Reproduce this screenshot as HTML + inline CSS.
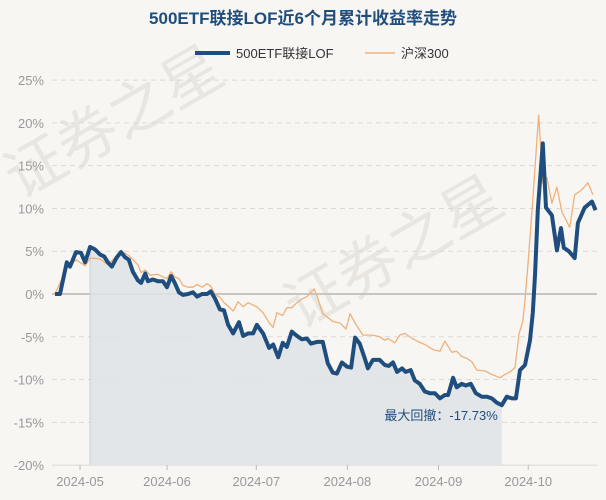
<!DOCTYPE html>
<html><head><meta charset="utf-8"><style>
body{margin:0;background:#f8f6f2;}
svg{display:block;font-family:"Liberation Sans","Noto Sans CJK SC",sans-serif;}
</style></head><body>
<svg id="chart" width="606" height="500">
<rect width="606" height="500" fill="#f8f6f2"/>
<g fill="#e9e6e1" font-size="60">
<text x="20" y="200" transform="rotate(-30 20 200)">证券之星</text>
<text x="300" y="330" transform="rotate(-30 300 330)">证券之星</text>
</g>
<text x="303" y="24" text-anchor="middle" font-size="17" font-weight="bold" fill="#1f4e7e">500ETF联接LOF近6个月累计收益率走势</text>
<g>
<line x1="195" y1="53" x2="230" y2="53" stroke="#1f4e7e" stroke-width="4"/>
<text x="236" y="58" font-size="13" fill="#333">500ETF联接LOF</text>
<line x1="365" y1="53" x2="395" y2="53" stroke="#f0b07a" stroke-width="1.5"/>
<text x="401" y="58" font-size="13" fill="#333">沪深300</text>
</g>
<g id="grid"></g><g id="area"></g><g id="lines"></g><g id="axes"></g>
</svg>
<script>
const yTicks=[25,20,15,10,5,0,-5,-10,-15,-20];
const xTickLabels=["2024-05","2024-06","2024-07","2024-08","2024-09","2024-10"];
const xTickDays=[5.5,24.6,44.2,64.2,84.2,103.9];
const fundDays=[0,1.1,2.6,3.3,4.6,5.7,6.6,7.7,8.8,9.9,10.8,11.6,12.5,13.6,14.5,15.4,16.2,17.1,18.2,18.9,19.8,20.4,21.5,22.6,23.7,24.6,25.5,26.3,27.2,28.1,29.2,30.3,31.2,32.3,33.4,34.2,35.1,36.2,37.1,38,39.1,40.4,41.3,42.4,43.5,44.3,45.7,47,47.9,49,50,50.9,52,53.1,54.2,55.3,56.2,57.5,58.8,59.9,61,61.9,63,64.1,65,65.9,66.9,68,68.7,69.8,71.3,72.4,73.3,74.2,75.1,76.2,77,78.1,79,80.1,81.2,82.3,83.4,84.5,85.6,86.3,87.4,88.2,89.3,90.2,91.3,92.4,93.7,94.8,95.9,97,98.1,99.2,100.3,101.2,102.1,103.2,104.3,104.9,105.4,106,107.1,107.8,109.1,110.2,111.1,111.7,112.8,114.1,114.8,116.3,117.9,118.7];
const fundValues=[0,0,3.7,3.2,4.9,4.8,3.7,5.5,5.2,4.6,4.4,3.7,3.2,4.3,4.9,4.3,4.0,2.6,1.6,1.3,2.4,1.5,1.7,1.5,1.5,0.8,2.1,1.3,0.2,-0.1,0,0.2,-0.3,0,0,0.3,-0.5,-1.8,-1.9,-3.6,-4.6,-3.3,-4.9,-4.6,-4.6,-3.6,-4.6,-6.3,-5.9,-7.4,-5.7,-6.2,-4.4,-4.9,-5.3,-5.2,-5.8,-5.6,-5.6,-8.1,-9.2,-9.3,-8.0,-8.5,-8.6,-5.1,-5.8,-7.5,-8.7,-7.7,-7.7,-8.3,-8.4,-8.0,-9.1,-8.7,-9.1,-8.9,-10.1,-10.5,-11.4,-11.6,-11.6,-12.2,-11.8,-11.8,-9.8,-10.9,-10.5,-10.7,-10.5,-11.6,-12.0,-12.0,-12.2,-12.7,-13.0,-12.0,-12.2,-12.2,-8.9,-8.3,-5.4,-2.2,2.4,9.8,17.6,10.1,9.2,5.1,7.7,5.4,5.0,4.2,8.3,10.1,10.8,9.8];
const indexDays=[0,2.6,4.6,6.6,7.7,9.9,11.6,13.6,14.5,16.2,18.2,18.9,19.8,20.9,22.6,23.7,24.6,25.5,26.3,27.2,28.1,29.2,30.3,31.2,32.3,33.4,34.2,35.1,36.2,37.1,38,39.1,40.2,41.3,42.4,43.5,44.3,45.7,47.2,47.9,48.7,50,50.9,52,53.1,54.2,55.3,56.9,57.5,58.8,61,62.6,63.9,64.8,65.9,67.6,69.8,71.3,72.4,73.1,74.6,75.7,76.8,78.4,79.5,81.2,83,84.5,85.6,87.1,88.2,89.3,90.4,91.5,92.6,94.4,95.9,97.7,98.8,99.9,101,101.9,102.7,103.2,103.8,104.9,105.8,106.2,107.1,108,109.1,110.2,111.3,113,114.1,115.7,117,118.1];
const indexValues=[0,3,4.0,3.3,4.2,4.1,3.4,4.5,5.0,4.5,3.4,2.5,2.8,2.2,2.3,2.0,1.8,2.6,2.0,1.8,1.0,0.8,0.8,1.1,0.8,1.2,0.9,0,-0.4,-1.0,-1.4,-2.0,-0.9,-1.5,-1.0,-1.3,-1.5,-2.2,-3.5,-3.9,-2.2,-2.5,-1.6,-1.6,-1.0,-0.6,-0.3,0.6,-0.2,-2.3,-3.2,-3.4,-4.1,-2.3,-3.4,-4.8,-4.8,-5.0,-5.4,-5.2,-5.7,-4.8,-4.6,-5.2,-5.5,-5.9,-6.5,-6.7,-5.5,-6.8,-6.7,-7.3,-7.5,-7.9,-8.9,-9.0,-9.4,-9.8,-9.4,-9.1,-8.6,-4.6,-3.2,-0.7,3.2,11,18,20.9,13,13.6,10.6,12.5,9.6,7.8,11.6,12.2,13,11.6];
const drawdownLabel="最大回撤：-17.73%";

const NS="http://www.w3.org/2000/svg";
const X0=55,X1=597,DAYMAX=119;
const xS=d=>X0+d/DAYMAX*(X1-X0);
const yS=v=>294-v*8.556;
function mk(tag,attrs,parent){const e=document.createElementNS(NS,tag);for(const k in attrs)e.setAttribute(k,attrs[k]);parent.appendChild(e);return e;}
const grid=document.getElementById('grid'),axes=document.getElementById('axes'),area=document.getElementById('area'),lines=document.getElementById('lines');
yTicks.forEach(t=>{
  const l=mk('line',{x1:52,x2:X1,y1:yS(t),y2:yS(t),stroke:t===0?'#c8c6c2':'#dcdad6','stroke-width':t===0?2:1,'stroke-dasharray':t===0||t===-20?'none':'5,4'},grid);
  
  
  const tx=mk('text',{x:44,y:yS(t)+5,'text-anchor':'end','font-size':13,fill:'#999'},axes);
  tx.textContent=t+'%';
  
  
});
xTickLabels.forEach((lab,i)=>{
  const x=xS(xTickDays[i]);
  const tk=mk('line',{x1:x,x2:x,y1:465,y2:470,stroke:'#bbb'},axes);
  
  
  const tx=mk('text',{x:x,y:486,'text-anchor':'middle','font-size':13,fill:'#999'},axes);
  tx.textContent=lab;
  
  
});
// drawdown area: peak to trough
let pk=0,tr=0,best=0;
for(let i=0;i<fundValues.length;i++){for(let j=0;j<i;j++){const dd=(1+fundValues[i]/100)/(1+fundValues[j]/100)-1;if(dd<best){best=dd;pk=j;tr=i;}}}
let pa='M'+xS(fundDays[pk])+','+yS(-20);
for(let i=pk;i<=tr;i++)pa+='L'+xS(fundDays[i])+','+yS(fundValues[i]);
pa+='L'+xS(fundDays[tr])+','+yS(-20)+'Z';
const ar=mk('path',{d:pa,fill:'#dfe3e6','fill-opacity':0.85},area);


const bl=mk('line',{x1:xS(fundDays[pk]),x2:xS(fundDays[pk]),y1:yS(fundValues[pk]),y2:yS(-20),stroke:'#c9cdd1'},area);


const lb=mk('text',{x:xS(fundDays[tr])-4,y:420,'text-anchor':'end','font-size':13,fill:'#1f4e7e'},area);
lb.textContent=drawdownLabel;


const path=(d,v)=>d.map((x,i)=>(i?'L':'M')+xS(x).toFixed(1)+','+yS(v[i]).toFixed(1)).join('');
const il=mk('path',{d:path(indexDays,indexValues),fill:'none',stroke:'#f0b07a','stroke-width':1.3,'stroke-linejoin':'round'},lines);


const fl=mk('path',{d:path(fundDays,fundValues),fill:'none',stroke:'#1f4e7e','stroke-width':4,'stroke-linejoin':'round'},lines);


</script>
</body></html>
